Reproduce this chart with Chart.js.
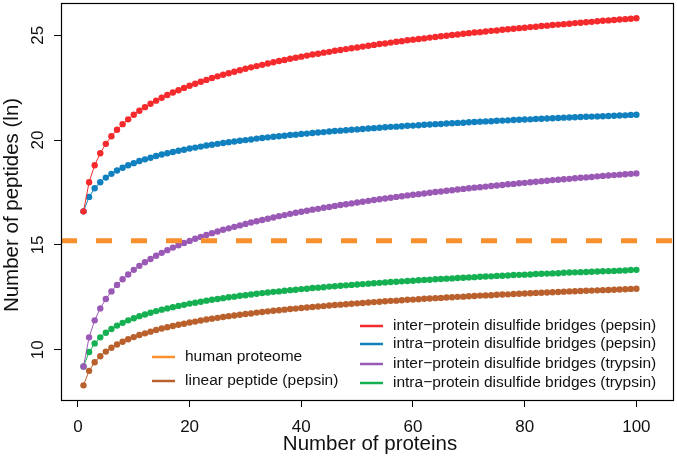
<!DOCTYPE html>
<html>
<head>
<meta charset="utf-8">
<script src="https://cdn.jsdelivr.net/npm/chart.js@4.4.1/dist/chart.umd.min.js"></script>
<style>
  html, body { margin: 0; padding: 0; background: #fff; }
  canvas { display: block; }
</style>
</head>
<body>
<canvas id="chart" width="677" height="459"></canvas>
<script>
// number of proteins (x)
const proteins = [
  1, 2, 3, 4, 5, 6, 7, 8, 9, 10, 11, 12, 13, 14, 15, 16, 17, 18, 19, 20,
  21, 22, 23, 24, 25, 26, 27, 28, 29, 30, 31, 32, 33, 34, 35, 36, 37, 38, 39, 40,
  41, 42, 43, 44, 45, 46, 47, 48, 49, 50, 51, 52, 53, 54, 55, 56, 57, 58, 59, 60,
  61, 62, 63, 64, 65, 66, 67, 68, 69, 70, 71, 72, 73, 74, 75, 76, 77, 78, 79, 80,
  81, 82, 83, 84, 85, 86, 87, 88, 89, 90, 91, 92, 93, 94, 95, 96, 97, 98, 99, 100
];

// number of peptides (ln)
const interPepsin = [
  16.60, 17.99, 18.80, 19.37, 19.82, 20.18, 20.49, 20.76, 20.99, 21.21,
  21.40, 21.57, 21.73, 21.88, 22.02, 22.15, 22.27, 22.38, 22.49, 22.59,
  22.69, 22.78, 22.87, 22.96, 23.04, 23.12, 23.19, 23.26, 23.33, 23.40,
  23.47, 23.53, 23.59, 23.65, 23.71, 23.77, 23.82, 23.88, 23.93, 23.98,
  24.03, 24.08, 24.12, 24.17, 24.21, 24.26, 24.30, 24.34, 24.38, 24.42,
  24.46, 24.50, 24.54, 24.58, 24.61, 24.65, 24.69, 24.72, 24.76, 24.79,
  24.82, 24.85, 24.89, 24.92, 24.95, 24.98, 25.01, 25.04, 25.07, 25.10,
  25.13, 25.15, 25.18, 25.21, 25.23, 25.26, 25.29, 25.31, 25.34, 25.36,
  25.39, 25.41, 25.44, 25.46, 25.49, 25.51, 25.53, 25.55, 25.58, 25.60,
  25.62, 25.64, 25.67, 25.69, 25.71, 25.73, 25.75, 25.77, 25.79, 25.81
];
const intraPepsin = [
  16.60, 17.29, 17.70, 17.99, 18.21, 18.39, 18.55, 18.68, 18.80, 18.90,
  19.00, 19.08, 19.16, 19.24, 19.31, 19.37, 19.43, 19.49, 19.54, 19.60,
  19.64, 19.69, 19.74, 19.78, 19.82, 19.86, 19.90, 19.93, 19.97, 20.00,
  20.03, 20.07, 20.10, 20.13, 20.16, 20.18, 20.21, 20.24, 20.26, 20.29,
  20.31, 20.34, 20.36, 20.38, 20.41, 20.43, 20.45, 20.47, 20.49, 20.51,
  20.53, 20.55, 20.57, 20.59, 20.61, 20.63, 20.64, 20.66, 20.68, 20.69,
  20.71, 20.73, 20.74, 20.76, 20.77, 20.79, 20.80, 20.82, 20.83, 20.85,
  20.86, 20.88, 20.89, 20.90, 20.92, 20.93, 20.94, 20.96, 20.97, 20.98,
  20.99, 21.01, 21.02, 21.03, 21.04, 21.05, 21.07, 21.08, 21.09, 21.10,
  21.11, 21.12, 21.13, 21.14, 21.15, 21.16, 21.17, 21.18, 21.20, 21.21
];
const interTrypsin = [
  9.20, 10.59, 11.40, 11.97, 12.42, 12.78, 13.09, 13.36, 13.59, 13.81,
  14.00, 14.17, 14.33, 14.48, 14.62, 14.75, 14.87, 14.98, 15.09, 15.19,
  15.29, 15.38, 15.47, 15.56, 15.64, 15.72, 15.79, 15.86, 15.93, 16.00,
  16.07, 16.13, 16.19, 16.25, 16.31, 16.37, 16.42, 16.48, 16.53, 16.58,
  16.63, 16.68, 16.72, 16.77, 16.81, 16.86, 16.90, 16.94, 16.98, 17.02,
  17.06, 17.10, 17.14, 17.18, 17.21, 17.25, 17.29, 17.32, 17.36, 17.39,
  17.42, 17.45, 17.49, 17.52, 17.55, 17.58, 17.61, 17.64, 17.67, 17.70,
  17.73, 17.75, 17.78, 17.81, 17.83, 17.86, 17.89, 17.91, 17.94, 17.96,
  17.99, 18.01, 18.04, 18.06, 18.09, 18.11, 18.13, 18.15, 18.18, 18.20,
  18.22, 18.24, 18.27, 18.29, 18.31, 18.33, 18.35, 18.37, 18.39, 18.41
];
const intraTrypsin = [
  9.20, 9.89, 10.30, 10.59, 10.81, 10.99, 11.15, 11.28, 11.40, 11.50,
  11.60, 11.68, 11.76, 11.84, 11.91, 11.97, 12.03, 12.09, 12.14, 12.20,
  12.24, 12.29, 12.34, 12.38, 12.42, 12.46, 12.50, 12.53, 12.57, 12.60,
  12.63, 12.67, 12.70, 12.73, 12.76, 12.78, 12.81, 12.84, 12.86, 12.89,
  12.91, 12.94, 12.96, 12.98, 13.01, 13.03, 13.05, 13.07, 13.09, 13.11,
  13.13, 13.15, 13.17, 13.19, 13.21, 13.23, 13.24, 13.26, 13.28, 13.29,
  13.31, 13.33, 13.34, 13.36, 13.37, 13.39, 13.40, 13.42, 13.43, 13.45,
  13.46, 13.48, 13.49, 13.50, 13.52, 13.53, 13.54, 13.56, 13.57, 13.58,
  13.59, 13.61, 13.62, 13.63, 13.64, 13.65, 13.67, 13.68, 13.69, 13.70,
  13.71, 13.72, 13.73, 13.74, 13.75, 13.76, 13.77, 13.78, 13.80, 13.81
];
const linearPepsin = [
  8.30, 8.99, 9.40, 9.69, 9.91, 10.09, 10.25, 10.38, 10.50, 10.60,
  10.70, 10.78, 10.86, 10.94, 11.01, 11.07, 11.13, 11.19, 11.24, 11.30,
  11.34, 11.39, 11.44, 11.48, 11.52, 11.56, 11.60, 11.63, 11.67, 11.70,
  11.73, 11.77, 11.80, 11.83, 11.86, 11.88, 11.91, 11.94, 11.96, 11.99,
  12.01, 12.04, 12.06, 12.08, 12.11, 12.13, 12.15, 12.17, 12.19, 12.21,
  12.23, 12.25, 12.27, 12.29, 12.31, 12.33, 12.34, 12.36, 12.38, 12.39,
  12.41, 12.43, 12.44, 12.46, 12.47, 12.49, 12.50, 12.52, 12.53, 12.55,
  12.56, 12.58, 12.59, 12.60, 12.62, 12.63, 12.64, 12.66, 12.67, 12.68,
  12.69, 12.71, 12.72, 12.73, 12.74, 12.75, 12.77, 12.78, 12.79, 12.80,
  12.81, 12.82, 12.83, 12.84, 12.85, 12.86, 12.87, 12.88, 12.90, 12.91
];
const humanProteome = 15.2;

const xTicks = [0, 20, 40, 60, 80, 100];
const yTicks = [10, 15, 20, 25];

const C = {
  red: '#f52a2d',
  blue: '#1180bf',
  purple: '#9b59b6',
  green: '#14b052',
  brown: '#b9602d',
  orange: '#f8912d'
};

const FONT = '"Liberation Sans", Arial, Helvetica, sans-serif';

const series = [
  { label: 'inter\u2212protein disulfide bridges (pepsin)', values: interPepsin, color: C.red },
  { label: 'intra\u2212protein disulfide bridges (pepsin)', values: intraPepsin, color: C.blue },
  { label: 'inter\u2212protein disulfide bridges (trypsin)', values: interTrypsin, color: C.purple },
  { label: 'intra\u2212protein disulfide bridges (trypsin)', values: intraTrypsin, color: C.green },
  { label: 'linear peptide (pepsin)', values: linearPepsin, color: C.brown }
];

// R style box, tick labels, axis titles, dashed reference line and legend
const rStyle = {
  id: 'rStyle',
  afterDatasetsDraw(chart) {
    const { ctx, chartArea: a, scales: { y } } = chart;
    const py = y.getPixelForValue(humanProteome);
    ctx.save();
    ctx.beginPath();
    ctx.rect(a.left, a.top, a.right - a.left, a.bottom - a.top);
    ctx.clip();
    ctx.strokeStyle = C.orange;
    ctx.lineWidth = 5;
    ctx.setLineDash([16, 19]);
    ctx.beginPath();
    ctx.moveTo(a.left, py);
    ctx.lineTo(a.right, py);
    ctx.stroke();
    ctx.restore();
  },
  afterDraw(chart) {
    const { ctx, chartArea: a, scales: { x, y } } = chart;
    ctx.save();
    ctx.strokeStyle = '#000';
    ctx.lineWidth = 1.2;
    ctx.strokeRect(Math.round(a.left) + 0.5, Math.round(a.top) + 0.5,
      Math.round(a.right - a.left) - 1, Math.round(a.bottom - a.top));

    ctx.fillStyle = '#111';
    ctx.font = '17px ' + FONT;
    ctx.textAlign = 'center';
    ctx.textBaseline = 'alphabetic';
    xTicks.forEach(v => ctx.fillText(String(v), x.getPixelForValue(v), 432));
    yTicks.forEach(v => {
      ctx.save();
      ctx.translate(43, y.getPixelForValue(v));
      ctx.rotate(-Math.PI / 2);
      ctx.fillText(String(v), 0, 0);
      ctx.restore();
    });

    ctx.font = '20.5px ' + FONT;
    ctx.fillText('Number of proteins', 370, 450);
    ctx.save();
    ctx.translate(18, 205);
    ctx.rotate(-Math.PI / 2);
    ctx.fillText('Number of peptides (ln)', 0, 0);
    ctx.restore();

    // legend
    ctx.font = '15.5px ' + FONT;
    ctx.textAlign = 'left';
    ctx.textBaseline = 'middle';
    ctx.lineWidth = 2.5;
    const entry = (label, color, lx, ty) => {
      ctx.strokeStyle = color;
      ctx.beginPath();
      ctx.moveTo(lx, ty);
      ctx.lineTo(lx + 23, ty);
      ctx.stroke();
      ctx.fillText(label, lx + 33, ty);
    };
    entry('human proteome', C.orange, 152, 357);
    entry(series[4].label, series[4].color, 152, 381);
    [326, 344, 364, 383].forEach((ty, i) => entry(series[i].label, series[i].color, 360, ty));
    ctx.restore();
  }
};

new Chart(document.getElementById('chart').getContext('2d'), {
  type: 'line',
  data: {
    datasets: series.map(s => ({
      label: s.label,
      data: proteins.map((p, i) => ({ x: p, y: s.values[i] })),
      borderColor: s.color,
      backgroundColor: s.color,
      pointBackgroundColor: s.color,
      borderWidth: 1,
      pointRadius: 3.2,
      pointBorderWidth: 0,
      pointHoverRadius: 3.2,
      tension: 0
    }))
  },
  options: {
    responsive: false,
    animation: false,
    devicePixelRatio: 1,
    layout: { padding: { top: 0, right: 1, left: 0, bottom: 0 } },
    plugins: { legend: { display: false }, tooltip: { enabled: false } },
    scales: {
      x: {
        type: 'linear',
        min: -3.03,
        max: 106.7,
        afterBuildTicks: s => { s.ticks = xTicks.map(v => ({ value: v })); },
        afterFit: s => { s.height = 59; },
        ticks: { display: false },
        border: { display: false },
        grid: { display: true, drawOnChartArea: false, drawTicks: true, tickLength: 7, color: '#000', lineWidth: 1 }
      },
      y: {
        type: 'linear',
        min: 7.6,
        max: 26.53,
        afterBuildTicks: s => { s.ticks = yTicks.map(v => ({ value: v })); },
        afterFit: s => { s.width = 61; },
        ticks: { display: false },
        border: { display: false },
        grid: { display: true, drawOnChartArea: false, drawTicks: true, tickLength: 7, color: '#000', lineWidth: 1 }
      }
    }
  },
  plugins: [rStyle]
});
</script>
</body>
</html>
